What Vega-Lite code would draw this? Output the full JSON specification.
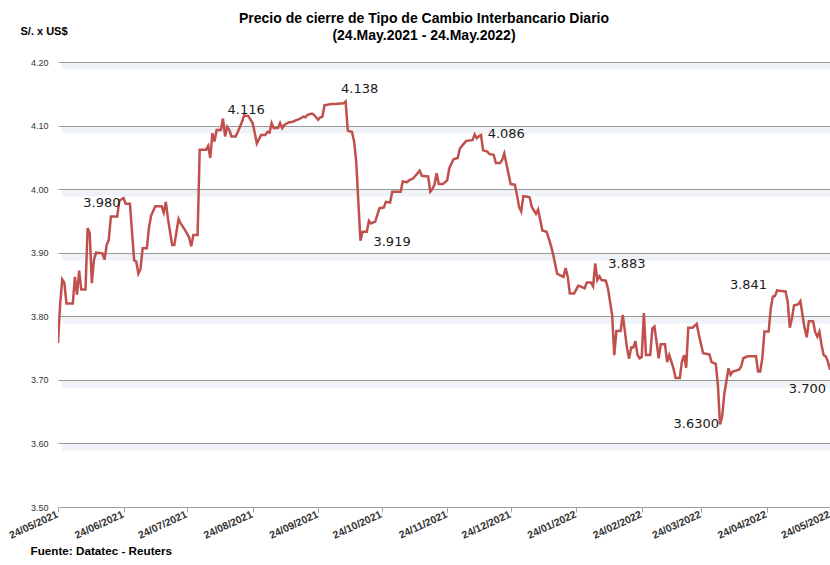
{
  "$schema": "https://vega.github.io/schema/vega-lite/v6.json",
  "width": 772,
  "height": 445,
  "autosize": {"type": "none"},
  "padding": {"left": 58, "top": 62, "right": 0, "bottom": 58},
  "background": "white",
  "config": {"view": {"stroke": null}, "font": "Liberation Sans"},
  "title": {
    "text": ["Precio de cierre de Tipo de Cambio Interbancario  Diario", "(24.May.2021 - 24.May.2022)"],
    "fontSize": 14,
    "fontWeight": "bold",
    "font": "Liberation Sans",
    "color": "#000000",
    "anchor": "middle",
    "frame": "group",
    "baseline": "top",
    "dx": -20,
    "lineHeight": 17,
    "offset": -18
  },
  "datasets": {
    "serie": [
      {"d":"2021-05-24","v":3.758},{"d":"2021-05-25","v":3.818},{"d":"2021-05-26","v":3.858},{"d":"2021-05-27","v":3.853},{"d":"2021-05-28","v":3.820},{"d":"2021-05-31","v":3.820},
      {"d":"2021-06-01","v":3.862},{"d":"2021-06-02","v":3.834},{"d":"2021-06-03","v":3.872},{"d":"2021-06-04","v":3.842},{"d":"2021-06-06","v":3.842},{"d":"2021-06-07","v":3.939},{"d":"2021-06-08","v":3.931},{"d":"2021-06-09","v":3.852},{"d":"2021-06-10","v":3.889},{"d":"2021-06-11","v":3.900},{"d":"2021-06-14","v":3.899},{"d":"2021-06-15","v":3.889},{"d":"2021-06-16","v":3.912},{"d":"2021-06-17","v":3.920},{"d":"2021-06-18","v":3.957},{"d":"2021-06-21","v":3.957},{"d":"2021-06-22","v":3.982},{"d":"2021-06-24","v":3.986},{"d":"2021-06-25","v":3.977},{"d":"2021-06-27","v":3.977},{"d":"2021-06-29","v":3.888},{"d":"2021-06-30","v":3.886},
      {"d":"2021-07-01","v":3.867},{"d":"2021-07-02","v":3.874},{"d":"2021-07-03","v":3.907},{"d":"2021-07-05","v":3.907},{"d":"2021-07-06","v":3.939},{"d":"2021-07-07","v":3.958},{"d":"2021-07-09","v":3.973},{"d":"2021-07-12","v":3.973},{"d":"2021-07-13","v":3.963},{"d":"2021-07-14","v":3.980},{"d":"2021-07-15","v":3.953},{"d":"2021-07-17","v":3.912},{"d":"2021-07-18","v":3.912},{"d":"2021-07-20","v":3.953},{"d":"2021-07-21","v":3.946},{"d":"2021-07-23","v":3.936},{"d":"2021-07-25","v":3.924},{"d":"2021-07-26","v":3.910},{"d":"2021-07-27","v":3.928},{"d":"2021-07-29","v":3.928},{"d":"2021-07-30","v":4.062},
      {"d":"2021-08-02","v":4.062},{"d":"2021-08-03","v":4.068},{"d":"2021-08-04","v":4.049},{"d":"2021-08-05","v":4.088},{"d":"2021-08-06","v":4.075},{"d":"2021-08-07","v":4.093},{"d":"2021-08-09","v":4.093},{"d":"2021-08-10","v":4.111},{"d":"2021-08-11","v":4.083},{"d":"2021-08-12","v":4.098},{"d":"2021-08-13","v":4.093},{"d":"2021-08-14","v":4.083},{"d":"2021-08-16","v":4.083},{"d":"2021-08-17","v":4.090},{"d":"2021-08-19","v":4.106},{"d":"2021-08-20","v":4.116},{"d":"2021-08-22","v":4.115},{"d":"2021-08-24","v":4.104},{"d":"2021-08-25","v":4.089},{"d":"2021-08-26","v":4.072},{"d":"2021-08-28","v":4.085},{"d":"2021-08-30","v":4.085},{"d":"2021-08-31","v":4.090},
      {"d":"2021-09-01","v":4.089},{"d":"2021-09-02","v":4.104},{"d":"2021-09-03","v":4.096},{"d":"2021-09-05","v":4.096},{"d":"2021-09-06","v":4.104},{"d":"2021-09-07","v":4.096},{"d":"2021-09-08","v":4.101},{"d":"2021-09-10","v":4.105},{"d":"2021-09-12","v":4.106},{"d":"2021-09-14","v":4.109},{"d":"2021-09-15","v":4.110},{"d":"2021-09-17","v":4.114},{"d":"2021-09-18","v":4.113},{"d":"2021-09-19","v":4.117},{"d":"2021-09-21","v":4.119},{"d":"2021-09-22","v":4.117},{"d":"2021-09-23","v":4.113},{"d":"2021-09-24","v":4.109},{"d":"2021-09-25","v":4.113},{"d":"2021-09-26","v":4.114},{"d":"2021-09-27","v":4.132},{"d":"2021-09-30","v":4.134},
      {"d":"2021-10-02","v":4.134},{"d":"2021-10-06","v":4.135},{"d":"2021-10-07","v":4.138},{"d":"2021-10-08","v":4.092},{"d":"2021-10-10","v":4.090},{"d":"2021-10-11","v":4.075},{"d":"2021-10-12","v":4.043},{"d":"2021-10-13","v":3.980},{"d":"2021-10-14","v":3.919},{"d":"2021-10-15","v":3.933},{"d":"2021-10-17","v":3.933},{"d":"2021-10-18","v":3.950},{"d":"2021-10-19","v":3.946},{"d":"2021-10-21","v":3.949},{"d":"2021-10-23","v":3.970},{"d":"2021-10-25","v":3.971},{"d":"2021-10-26","v":3.980},{"d":"2021-10-28","v":3.979},{"d":"2021-10-29","v":3.996},
      {"d":"2021-11-02","v":3.996},{"d":"2021-11-03","v":4.012},{"d":"2021-11-05","v":4.011},{"d":"2021-11-06","v":4.014},{"d":"2021-11-08","v":4.017},{"d":"2021-11-09","v":4.021},{"d":"2021-11-11","v":4.029},{"d":"2021-11-12","v":4.021},{"d":"2021-11-15","v":4.020},{"d":"2021-11-16","v":3.996},{"d":"2021-11-17","v":4.000},{"d":"2021-11-18","v":4.007},{"d":"2021-11-19","v":4.025},{"d":"2021-11-20","v":4.008},{"d":"2021-11-22","v":4.008},{"d":"2021-11-24","v":4.014},{"d":"2021-11-25","v":4.033},{"d":"2021-11-27","v":4.047},{"d":"2021-11-29","v":4.049},{"d":"2021-11-30","v":4.064},
      {"d":"2021-12-02","v":4.072},{"d":"2021-12-03","v":4.076},{"d":"2021-12-06","v":4.077},{"d":"2021-12-07","v":4.086},{"d":"2021-12-08","v":4.080},{"d":"2021-12-09","v":4.083},{"d":"2021-12-10","v":4.085},{"d":"2021-12-11","v":4.061},{"d":"2021-12-13","v":4.059},{"d":"2021-12-14","v":4.055},{"d":"2021-12-16","v":4.054},{"d":"2021-12-17","v":4.041},{"d":"2021-12-19","v":4.041},{"d":"2021-12-20","v":4.046},{"d":"2021-12-21","v":4.056},{"d":"2021-12-24","v":4.008},{"d":"2021-12-26","v":4.007},{"d":"2021-12-27","v":3.991},{"d":"2021-12-28","v":3.972},{"d":"2021-12-29","v":3.965},{"d":"2021-12-30","v":3.989},
      {"d":"2022-01-01","v":3.988},{"d":"2022-01-02","v":3.987},{"d":"2022-01-03","v":3.972},{"d":"2022-01-05","v":3.961},{"d":"2022-01-06","v":3.968},{"d":"2022-01-08","v":3.935},{"d":"2022-01-10","v":3.933},{"d":"2022-01-12","v":3.912},{"d":"2022-01-13","v":3.899},{"d":"2022-01-15","v":3.867},{"d":"2022-01-16","v":3.865},{"d":"2022-01-18","v":3.862},{"d":"2022-01-19","v":3.876},{"d":"2022-01-20","v":3.862},{"d":"2022-01-21","v":3.836},{"d":"2022-01-23","v":3.836},{"d":"2022-01-25","v":3.848},{"d":"2022-01-26","v":3.847},{"d":"2022-01-28","v":3.844},{"d":"2022-01-29","v":3.853},{"d":"2022-01-31","v":3.853},
      {"d":"2022-02-01","v":3.847},{"d":"2022-02-02","v":3.883},{"d":"2022-02-03","v":3.857},{"d":"2022-02-04","v":3.863},{"d":"2022-02-05","v":3.857},{"d":"2022-02-07","v":3.856},{"d":"2022-02-08","v":3.844},{"d":"2022-02-09","v":3.823},{"d":"2022-02-10","v":3.802},{"d":"2022-02-11","v":3.739},{"d":"2022-02-12","v":3.777},{"d":"2022-02-14","v":3.777},{"d":"2022-02-15","v":3.802},{"d":"2022-02-16","v":3.777},{"d":"2022-02-17","v":3.750},{"d":"2022-02-18","v":3.733},{"d":"2022-02-19","v":3.751},{"d":"2022-02-20","v":3.751},{"d":"2022-02-21","v":3.761},{"d":"2022-02-22","v":3.739},{"d":"2022-02-23","v":3.734},{"d":"2022-02-24","v":3.736},{"d":"2022-02-25","v":3.805},{"d":"2022-02-26","v":3.739},{"d":"2022-02-28","v":3.739},
      {"d":"2022-03-01","v":3.781},{"d":"2022-03-02","v":3.784},{"d":"2022-03-03","v":3.760},{"d":"2022-03-04","v":3.734},{"d":"2022-03-05","v":3.756},{"d":"2022-03-07","v":3.756},{"d":"2022-03-08","v":3.728},{"d":"2022-03-09","v":3.739},{"d":"2022-03-11","v":3.718},{"d":"2022-03-12","v":3.703},{"d":"2022-03-14","v":3.703},{"d":"2022-03-15","v":3.729},{"d":"2022-03-16","v":3.739},{"d":"2022-03-17","v":3.719},{"d":"2022-03-18","v":3.782},{"d":"2022-03-20","v":3.782},{"d":"2022-03-22","v":3.788},{"d":"2022-03-23","v":3.771},{"d":"2022-03-25","v":3.742},{"d":"2022-03-28","v":3.740},{"d":"2022-03-29","v":3.728},{"d":"2022-03-31","v":3.725},
      {"d":"2022-04-01","v":3.692},{"d":"2022-04-02","v":3.630},{"d":"2022-04-03","v":3.642},{"d":"2022-04-04","v":3.677},{"d":"2022-04-06","v":3.718},{"d":"2022-04-07","v":3.708},{"d":"2022-04-08","v":3.713},{"d":"2022-04-11","v":3.716},{"d":"2022-04-12","v":3.721},{"d":"2022-04-13","v":3.734},{"d":"2022-04-15","v":3.737},{"d":"2022-04-19","v":3.737},{"d":"2022-04-20","v":3.713},{"d":"2022-04-21","v":3.713},{"d":"2022-04-22","v":3.734},{"d":"2022-04-23","v":3.776},{"d":"2022-04-25","v":3.776},{"d":"2022-04-26","v":3.813},{"d":"2022-04-27","v":3.831},{"d":"2022-04-28","v":3.832},{"d":"2022-04-29","v":3.841},{"d":"2022-04-30","v":3.840},
      {"d":"2022-05-03","v":3.839},{"d":"2022-05-04","v":3.823},{"d":"2022-05-05","v":3.782},{"d":"2022-05-06","v":3.797},{"d":"2022-05-07","v":3.817},{"d":"2022-05-09","v":3.819},{"d":"2022-05-10","v":3.824},{"d":"2022-05-11","v":3.802},{"d":"2022-05-12","v":3.781},{"d":"2022-05-13","v":3.767},{"d":"2022-05-14","v":3.792},{"d":"2022-05-16","v":3.792},{"d":"2022-05-17","v":3.775},{"d":"2022-05-18","v":3.768},{"d":"2022-05-19","v":3.776},{"d":"2022-05-20","v":3.755},{"d":"2022-05-21","v":3.739},{"d":"2022-05-22","v":3.737},{"d":"2022-05-23","v":3.729},{"d":"2022-05-24","v":3.716}
    ],
    "notas": [
      {"d":"2021-06-24","v":3.986,"t":"3.980"},
      {"d":"2021-08-20","v":4.116,"t":"4.116"},
      {"d":"2021-10-07","v":4.138,"t":"4.138"},
      {"d":"2021-10-14","v":3.919,"t":"3.919"},
      {"d":"2021-12-07","v":4.086,"t":"4.086"},
      {"d":"2022-02-02","v":3.883,"t":"3.883"},
      {"d":"2022-04-29","v":3.841,"t":"3.841"},
      {"d":"2022-04-02","v":3.630,"t":"3.6300"},
      {"d":"2022-05-24","v":3.700,"t":"3.700"}
    ]
  },
  "encoding": {
    "x": {
      "field": "d",
      "type": "temporal",
      "scale": {"type": "utc", "domain": [{"year": 2021, "month": 5, "date": 24, "utc": true}, {"year": 2022, "month": 5, "date": 24, "utc": true}]},
      "axis": {
        "values": [
          {"year": 2021, "month": 5, "date": 24, "utc": true},
          {"year": 2021, "month": 6, "date": 24, "utc": true},
          {"year": 2021, "month": 7, "date": 24, "utc": true},
          {"year": 2021, "month": 8, "date": 24, "utc": true},
          {"year": 2021, "month": 9, "date": 24, "utc": true},
          {"year": 2021, "month": 10, "date": 24, "utc": true},
          {"year": 2021, "month": 11, "date": 24, "utc": true},
          {"year": 2021, "month": 12, "date": 24, "utc": true},
          {"year": 2022, "month": 1, "date": 24, "utc": true},
          {"year": 2022, "month": 2, "date": 24, "utc": true},
          {"year": 2022, "month": 3, "date": 24, "utc": true},
          {"year": 2022, "month": 4, "date": 24, "utc": true},
          {"year": 2022, "month": 5, "date": 24, "utc": true}
        ],
        "format": "%d/%m/%Y",
        "labelAngle": -25,
        "labelFontSize": 10.5,
        "labelFontWeight": "bold",
        "labelColor": "#333333",
        "labelPadding": -3,
        "labelOffset": -3,
        "labelFlush": false,
        "labelOverlap": false,
        "grid": false,
        "domainColor": "#a0a0a0",
        "tickColor": "#a0a0a0",
        "tickSize": 5,
        "title": "Fuente: Datatec - Reuters",
        "titleFontSize": 11.7,
        "titleFontWeight": "bold",
        "titleColor": "#000000",
        "titleAlign": "left",
        "titleAnchor": "start",
        "titleAngle": 0,
        "titleBaseline": "middle",
        "titleX": -28,
        "titleY": 43
      }
    },
    "y": {
      "field": "v",
      "type": "quantitative",
      "scale": {"domain": [3.5, 4.2], "zero": false, "nice": false}
    }
  },
  "resolve": {"axis": {"y": "independent"}},
  "layer": [
    {
      "data": {"name": "serie"},
      "mark": {"type": "line", "strokeOpacity": 0, "color": "#ffffff"},
      "encoding": {
        "y": {
          "field": "v",
          "type": "quantitative",
          "scale": {"domain": [3.5, 4.2], "zero": false, "nice": false},
          "axis": {
            "orient": "right",
            "values": [3.6, 3.7, 3.8, 3.9, 4.0, 4.1, 4.2],
            "labels": false,
            "ticks": false,
            "domain": false,
            "title": null,
            "grid": true,
            "gridColor": "#eff2f7",
            "gridWidth": 7,
            "translate": 4
          }
        }
      }
    },
    {
      "encoding": {
        "y": {
          "field": "v",
          "type": "quantitative",
          "scale": {"domain": [3.5, 4.2], "zero": false, "nice": false},
          "axis": {
            "orient": "left",
            "values": [3.5, 3.6, 3.7, 3.8, 3.9, 4.0, 4.1, 4.2],
            "format": ".2f",
            "labelFontSize": 9,
            "labelColor": "#333333",
            "labelPadding": 10,
            "ticks": false,
            "domain": false,
            "grid": true,
            "gridColor": "#999999",
            "gridWidth": 1,
            "title": "S/. x US$",
            "titleFontSize": 11,
            "titleFontWeight": "bold",
            "titleColor": "#000000",
            "titleAngle": 0,
            "titleAlign": "left",
            "titleBaseline": "middle",
            "titleX": -38,
            "titleY": -31
          }
        }
      },
      "layer": [
        {
          "data": {"name": "serie"},
          "mark": {"type": "line", "color": "#c0504d", "strokeWidth": 2.5, "clip": true}
        },
        {
          "data": {"name": "notas"},
          "transform": [{"filter": "datum.t == '3.980'"}],
          "mark": {"type": "text", "font": "DejaVu Sans", "fontSize": 13, "color": "#1a1a1a", "align": "right", "baseline": "middle", "dx": -3, "dy": 5},
          "encoding": {"text": {"field": "t"}}
        },
        {
          "data": {"name": "notas"},
          "transform": [{"filter": "datum.t == '4.116'"}],
          "mark": {"type": "text", "font": "DejaVu Sans", "fontSize": 13, "color": "#1a1a1a", "align": "center", "baseline": "alphabetic", "dx": 2, "dy": -1},
          "encoding": {"text": {"field": "t"}}
        },
        {
          "data": {"name": "notas"},
          "transform": [{"filter": "datum.t == '4.138'"}],
          "mark": {"type": "text", "font": "DejaVu Sans", "fontSize": 13, "color": "#1a1a1a", "align": "center", "baseline": "alphabetic", "dx": 14, "dy": -8},
          "encoding": {"text": {"field": "t"}}
        },
        {
          "data": {"name": "notas"},
          "transform": [{"filter": "datum.t == '3.919'"}],
          "mark": {"type": "text", "font": "DejaVu Sans", "fontSize": 13, "color": "#1a1a1a", "align": "left", "baseline": "middle", "dx": 13, "dy": 1},
          "encoding": {"text": {"field": "t"}}
        },
        {
          "data": {"name": "notas"},
          "transform": [{"filter": "datum.t == '4.086' || datum.t == '3.883'"}],
          "mark": {"type": "text", "font": "DejaVu Sans", "fontSize": 13, "color": "#1a1a1a", "align": "left", "baseline": "middle", "dx": 13, "dy": 0},
          "encoding": {"text": {"field": "t"}}
        },
        {
          "data": {"name": "notas"},
          "transform": [{"filter": "datum.t == '3.841'"}],
          "mark": {"type": "text", "font": "DejaVu Sans", "fontSize": 13, "color": "#1a1a1a", "align": "right", "baseline": "middle", "dx": -10, "dy": -5},
          "encoding": {"text": {"field": "t"}}
        },
        {
          "data": {"name": "notas"},
          "transform": [{"filter": "datum.t == '3.6300'"}],
          "mark": {"type": "text", "font": "DejaVu Sans", "fontSize": 13, "color": "#1a1a1a", "align": "right", "baseline": "middle", "dx": -1, "dy": 0},
          "encoding": {"text": {"field": "t"}}
        },
        {
          "data": {"name": "notas"},
          "transform": [{"filter": "datum.t == '3.700'"}],
          "mark": {"type": "text", "font": "DejaVu Sans", "fontSize": 13, "color": "#1a1a1a", "align": "right", "baseline": "middle", "dx": -4, "dy": 9},
          "encoding": {"text": {"field": "t"}}
        }
      ]
    }
  ]
}
